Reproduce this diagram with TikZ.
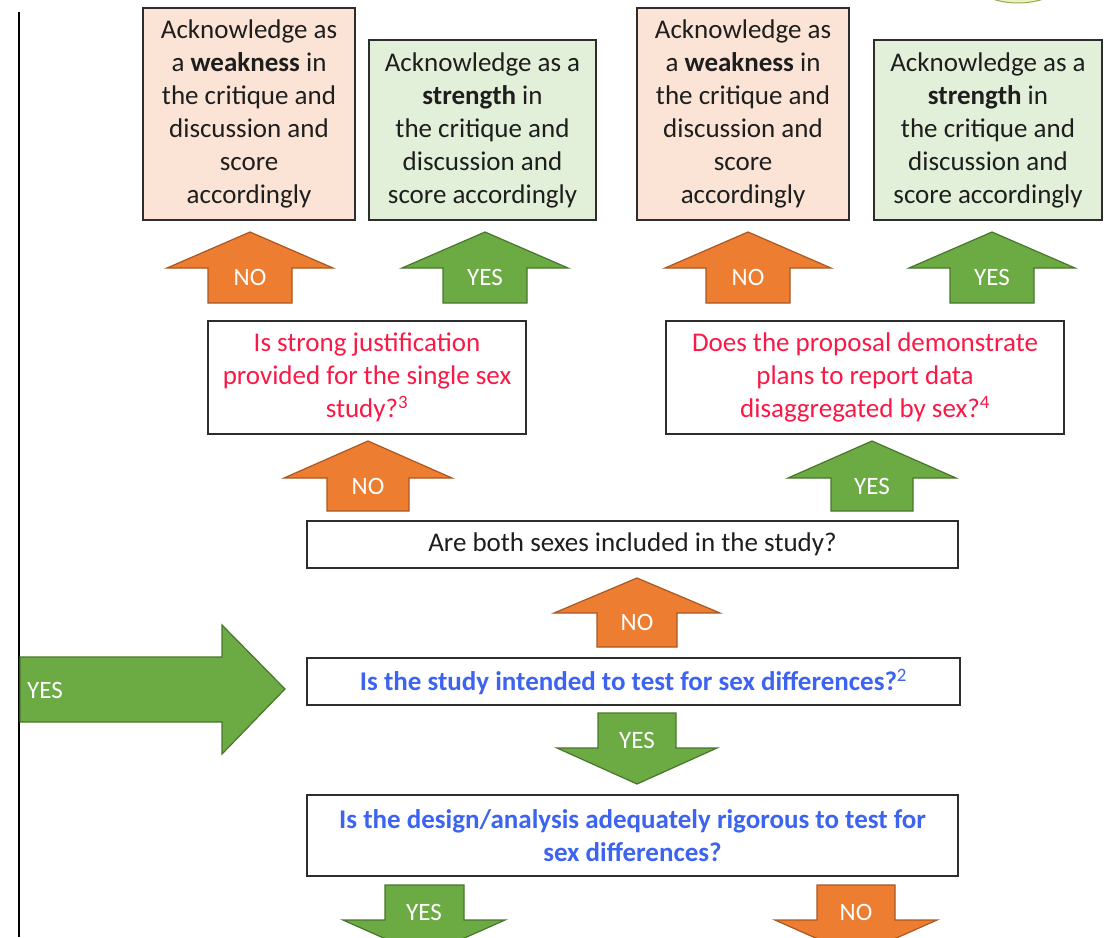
\documentclass[tikz,border=0pt]{standalone}
\usepackage{fontspec}
\setmainfont{Carlito}
\newlength{\du}
\setlength{\du}{1pt}
\definecolor{orangefill}{RGB}{237,125,49}
\definecolor{orangeline}{RGB}{170,88,35}
\definecolor{greenfill}{RGB}{108,171,68}
\definecolor{greenline}{RGB}{72,118,44}
\definecolor{weakfill}{RGB}{251,228,213}
\definecolor{strongfill}{RGB}{226,240,217}
\definecolor{boxline}{RGB}{45,45,45}
\definecolor{inkblack}{RGB}{30,30,30}
\definecolor{questred}{RGB}{250,25,70}
\definecolor{questblue}{RGB}{60,100,240}
\definecolor{blobfill}{RGB}{236,240,196}
\definecolor{blobline}{RGB}{150,170,80}
\tikzset{
  critique/.style={draw=boxline, line width=1.4\du, inner sep=0pt, align=center,
    text=inkblack, font=\fontsize{27}{33}\selectfont},
  weakness/.style={critique, fill=weakfill, minimum width=212\du, minimum height=212\du},
  strength/.style={critique, fill=strongfill, minimum height=180\du},
  question/.style={critique, fill=white},
  redq/.style={question, text=questred},
  blueq/.style={question, text=questblue, font=\fontsize{27}{33}\selectfont\bfseries},
  noarrow/.style={fill=orangefill, draw=orangeline, line width=1.2\du, line join=miter},
  yesarrow/.style={fill=greenfill, draw=greenline, line width=1.2\du, line join=miter},
  answer/.style={text=white, inner sep=0pt, font=\fontsize{25}{30}\selectfont}
}

\begin{document}
\begin{tikzpicture}
\pgftransformxscale{1.000000}
\pgftransformyscale{-1.000000}
\clip (0\du,0\du) rectangle (1107\du,937\du);
\fill[white] (0\du,0\du) rectangle (1107\du,937\du);
% page edge and cut-off shape at the top
\draw[line width=2\du, black] (19\du,12\du)--(19\du,937\du);
\draw[fill=blobfill, draw=blobline, line width=1\du] (1018\du,-28\du) ellipse [x radius=52\du, y radius=31\du];
% outcome boxes
\node[weakness] (weakA) at (249\du,114\du){Acknowledge as\\a \textbf{weakness} in\\the critique and\\discussion and\\score\\accordingly};
\node[strength, minimum width=227\du] (strongA) at (482.5\du,130\du){Acknowledge as a\\\textbf{strength} in\\the critique and\\discussion and\\score accordingly};
\node[weakness] (weakB) at (743\du,114\du){Acknowledge as\\a \textbf{weakness} in\\the critique and\\discussion and\\score\\accordingly};
\node[strength, minimum width=228\du] (strongB) at (988\du,130\du){Acknowledge as a\\\textbf{strength} in\\the critique and\\discussion and\\score accordingly};
% questions
\node[redq, minimum width=318\du, minimum height=113\du] (single) at (367\du,377.5\du){Is strong justification\\provided for the single sex\\study?\textsuperscript{3}};
\node[redq, minimum width=398\du, minimum height=113\du] (disagg) at (865\du,377.5\du){Does the proposal demonstrate\\plans to report data\\disaggregated by sex?\textsuperscript{4}};
\node[question, minimum width=651\du, minimum height=47\du] (both) at (632.5\du,544.5\du){Are both sexes included in the study?};
\node[blueq, minimum width=653\du, minimum height=47\du] (intended) at (633.5\du,681.5\du){Is the study intended to test for sex differences?\textsuperscript{\mdseries 2}};
\node[blueq, minimum width=651\du, minimum height=81\du] (design) at (632.5\du,835.5\du){Is the design/analysis adequately rigorous to test for\\sex differences?};
% block arrows, top row
\draw[noarrow] (208\du,303\du)--(208\du,268\du)--(167\du,268\du)--(250\du,232\du)--(333\du,268\du)--(292\du,268\du)--(292\du,303\du)--cycle;
\draw[yesarrow] (443\du,303\du)--(443\du,268\du)--(402\du,268\du)--(485\du,232\du)--(568\du,268\du)--(527\du,268\du)--(527\du,303\du)--cycle;
\draw[noarrow] (706\du,303\du)--(706\du,268\du)--(665\du,268\du)--(748\du,232\du)--(831\du,268\du)--(790\du,268\du)--(790\du,303\du)--cycle;
\draw[yesarrow] (950\du,303\du)--(950\du,268\du)--(909\du,268\du)--(992\du,232\du)--(1075\du,268\du)--(1034\du,268\du)--(1034\du,303\du)--cycle;
\node[answer] (noA) at (250\du,277\du){NO};
\node[answer] (yesA) at (485\du,277\du){YES};
\node[answer] (noB) at (748\du,277\du){NO};
\node[answer] (yesB) at (992\du,277\du){YES};
% second row
\draw[noarrow] (327\du,511\du)--(327\du,478\du)--(284\du,478\du)--(368\du,441\du)--(452\du,478\du)--(409\du,478\du)--(409\du,511\du)--cycle;
\draw[yesarrow] (831\du,511\du)--(831\du,478\du)--(788\du,478\du)--(872\du,441\du)--(956\du,478\du)--(913\du,478\du)--(913\du,511\du)--cycle;
\node[answer] (noC) at (368\du,486\du){NO};
\node[answer] (yesC) at (872\du,486\du){YES};
% middle column
\draw[noarrow] (597\du,647\du)--(597\du,613\du)--(554\du,613\du)--(637\du,578\du)--(720\du,613\du)--(677\du,613\du)--(677\du,647\du)--cycle;
\draw[yesarrow] (598\du,713\du)--(676\du,713\du)--(676\du,748\du)--(717\du,748\du)--(637\du,784\du)--(557\du,748\du)--(598\du,748\du)--cycle;
\node[answer] (noD) at (637\du,622\du){NO};
\node[answer] (yesD) at (637\du,740\du){YES};
% entry from the left
\draw[yesarrow] (20\du,657\du)--(222\du,657\du)--(222\du,625\du)--(285\du,689\du)--(222\du,754\du)--(222\du,722\du)--(20\du,722\du)--cycle;
\node[answer, anchor=west] (yesE) at (27\du,690\du){YES};
% bottom, cut by the page
\draw[yesarrow] (385\du,885\du)--(464\du,885\du)--(464\du,920\du)--(505\du,920\du)--(424\du,956\du)--(343\du,920\du)--(385\du,920\du)--cycle;
\draw[noarrow] (817\du,885\du)--(895\du,885\du)--(895\du,920\du)--(937\du,920\du)--(856\du,956\du)--(775\du,920\du)--(817\du,920\du)--cycle;
\node[answer] (yesF) at (424\du,912\du){YES};
\node[answer] (noF) at (856\du,912\du){NO};
\end{tikzpicture}
\end{document}
